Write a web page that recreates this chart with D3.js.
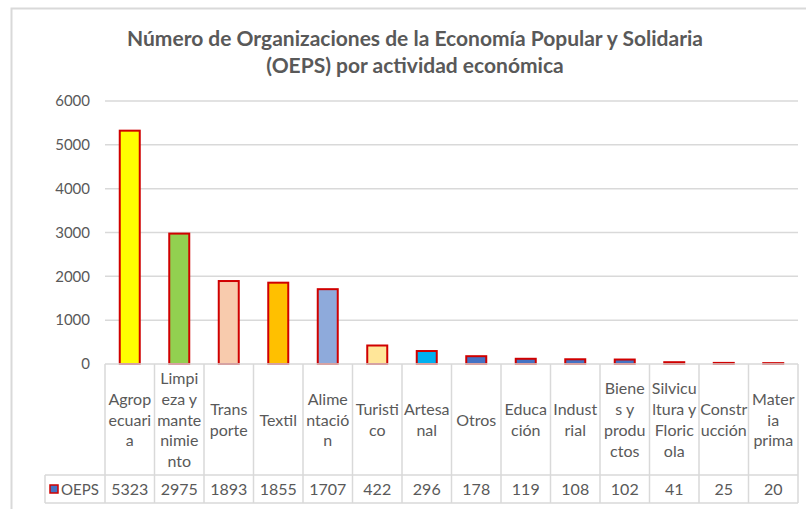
<!DOCTYPE html>
<html>
<head>
<meta charset="utf-8">
<script src="https://cdn.jsdelivr.net/npm/d3@7"></script>
<style>
  body { margin: 0; background: #fff; }
  text { font-family: Lato, "Open Sans", sans-serif; }
</style>
</head>
<body>
<div id="chart"></div>
<script>
// data
var categories = ["Agropecuaria", "Limpieza y mantenimiento", "Transporte", "Textil", "Alimentación",
  "Turistico", "Artesanal", "Otros", "Educación", "Industrial", "Bienes y productos",
  "Silvicultura y Floricola", "Construcción", "Materia prima"]
// wrapped the same way as in the table header
var categoryLines = [
  ["Agrop", "ecuari", "a"], ["Limpi", "eza y", "mante", "nimie", "nto"], ["Trans", "porte"], ["Textil"],
  ["Alime", "ntació", "n"], ["Turisti", "co"], ["Artesa", "nal"], ["Otros"], ["Educa", "ción"],
  ["Indust", "rial"], ["Biene", "s y", "produ", "ctos"], ["Silvicu", "ltura y", "Floric", "ola"],
  ["Constr", "ucción"], ["Mater", "ia", "prima"]]
var oeps = [5323, 2975, 1893, 1855, 1707, 422, 296, 178, 119, 108, 102, 41, 25, 20]
var barColors = ["#ffff00", "#92d050", "#f8cbad", "#ffc000", "#8eaadb", "#ffe699", "#00b0f0",
  "#4472c4", "#4472c4", "#4472c4", "#4472c4", "#4472c4", "#4472c4", "#4472c4"]
var yTicks = [0, 1000, 2000, 3000, 4000, 5000, 6000]
var seriesName = "OEPS"

var W = 806, H = 509
var margin = { top: 101, left: 105, right: 8, bottom: 145 }
var plotW = W - margin.left - margin.right,
    plotH = H - margin.top - margin.bottom

var svg = d3.select("#chart").append("svg")
    .attr("width", W)
    .attr("height", H)

// chart frame
svg.append("path")
    .attr("d", "M11.5," + H + "V8.5H" + W)
    .attr("fill", "none")
    .attr("stroke", "#d9d9d9")
    .attr("stroke-width", 2)

// title
var title = svg.append("text")
    .attr("text-anchor", "middle")
    .attr("fill", "#595959")
    .style("font-size", "21px")
    .style("font-weight", "bold")
title.append("tspan").attr("x", 415).attr("y", 46).text("Número de Organizaciones de la Economía Popular y Solidaria")
title.append("tspan").attr("x", 415).attr("y", 73).text("(OEPS) por actividad económica")

var g = svg.append("g")
    .attr("transform", "translate(" + margin.left + "," + margin.top + ")")

var x = d3.scaleBand()
    .domain(categories)
    .range([0, plotW])
    .paddingInner(0)
    .paddingOuter(0)

var y = d3.scaleLinear()
    .domain([0, 6000])
    .range([plotH, 0])

// gridlines
g.selectAll(".grid")
    .data(yTicks.slice(1))
    .enter().append("line")
    .attr("x1", 0).attr("x2", plotW)
    .attr("y1", d => y(d)).attr("y2", d => y(d))
    .attr("stroke", "#d9d9d9")
    .attr("stroke-width", 1.5)

// y axis labels
var yAxis = g.append("g")
    .call(d3.axisLeft(y).tickValues(yTicks).tickSize(0).tickPadding(15).tickFormat(d3.format("d")))
yAxis.select(".domain").remove()
yAxis.selectAll("text")
    .attr("fill", "#595959")
    .style("font-size", "15px")
    .style("font-family", "Lato, 'Open Sans', sans-serif")

// bars
var bw = 20
g.selectAll(".bar")
    .data(oeps)
    .enter().append("rect")
    .attr("x", (d, i) => x(categories[i]) + x.bandwidth() / 2 - bw / 2)
    .attr("y", d => y(d))
    .attr("width", bw)
    .attr("height", d => plotH - y(d))
    .attr("fill", (d, i) => barColors[i])
    .attr("stroke", "#d00000")
    .attr("stroke-width", 2)

// data table
var rowTop = plotH, rowMid = plotH + 111, rowBot = plotH + 139
var tbl = g.append("g")
var lineCol = "#d9d9d9"

tbl.append("line").attr("x1", 0).attr("x2", plotW).attr("y1", rowTop).attr("y2", rowTop).attr("stroke", lineCol).attr("stroke-width", 1.5)
tbl.append("line").attr("x1", -60).attr("x2", plotW).attr("y1", rowMid).attr("y2", rowMid).attr("stroke", lineCol).attr("stroke-width", 1.5)
tbl.append("line").attr("x1", -60).attr("x2", plotW).attr("y1", rowBot).attr("y2", rowBot).attr("stroke", lineCol).attr("stroke-width", 1.5)
tbl.append("line").attr("x1", -60).attr("x2", -60).attr("y1", rowMid).attr("y2", rowBot).attr("stroke", lineCol).attr("stroke-width", 1.5)

var cols = categories.map(c => x(c)).concat([plotW])
tbl.selectAll(".vline")
    .data(cols)
    .enter().append("line")
    .attr("x1", d => d).attr("x2", d => d)
    .attr("y1", rowTop).attr("y2", rowBot)
    .attr("stroke", lineCol)
    .attr("stroke-width", 1.5)

// category labels
var lh = 20.7
categories.forEach(function (c, i) {
  var lines = categoryLines[i]
  var cy = (rowTop + rowMid) / 2 + 6
  var t = tbl.append("text")
      .attr("text-anchor", "middle")
      .attr("fill", "#595959")
      .style("font-size", "16px")
  lines.forEach(function (l, k) {
    t.append("tspan")
        .attr("x", x(c) + x.bandwidth() / 2)
        .attr("y", cy + (k - (lines.length - 1) / 2) * lh)
        .text(l)
  })
})

// values row
tbl.selectAll(".val")
    .data(oeps)
    .enter().append("text")
    .attr("x", (d, i) => x(categories[i]) + x.bandwidth() / 2)
    .attr("y", (rowMid + rowBot) / 2 + 6)
    .attr("text-anchor", "middle")
    .attr("fill", "#595959")
    .style("font-size", "16px")
    .text(d => d)

// legend key
tbl.append("rect")
    .attr("x", -55).attr("y", (rowMid + rowBot) / 2 - 4)
    .attr("width", 8).attr("height", 8)
    .attr("fill", "#4472c4")
    .attr("stroke", "#d00000")
    .attr("stroke-width", 1.5)
tbl.append("text")
    .attr("x", -44)
    .attr("y", (rowMid + rowBot) / 2 + 6)
    .attr("fill", "#595959")
    .style("font-size", "15px")
    .text(seriesName)
</script>
</body>
</html>
